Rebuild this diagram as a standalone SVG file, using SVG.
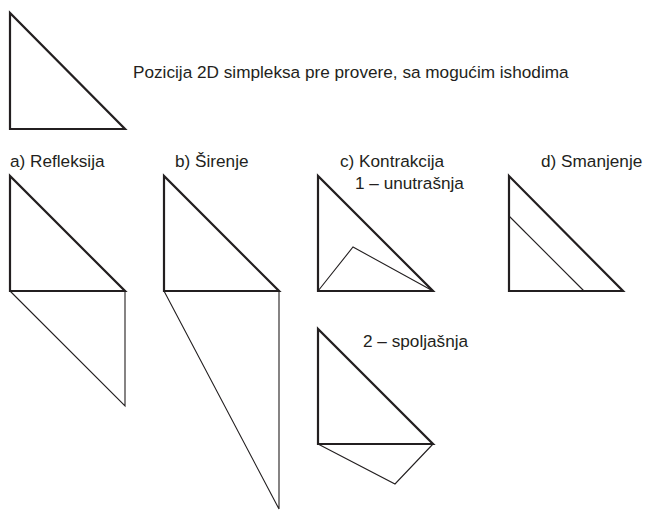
<svg xmlns="http://www.w3.org/2000/svg" width="646" height="510" viewBox="0 0 646 510">
<style>
.tri{fill:none;stroke:#231f20;stroke-width:2.2;stroke-linejoin:miter}
.thin{fill:none;stroke:#231f20;stroke-width:1.1}
text{font-family:"Liberation Sans",Arial,sans-serif;font-size:17.2px;fill:#231f20}
</style>
<rect width="646" height="510" fill="#fff"/>
<g id="start">
<polygon class="tri" points="10,13 10,129 125,129"/>
<text x="133" y="78" font-size="16.6">Pozicija 2D simpleksa pre provere, sa mogućim ishodima</text>
</g>
<g id="refleksija">
<text x="10" y="167">a) Refleksija</text>
<polygon class="tri" points="10,176 10,291 125,291"/>
<polyline class="thin" points="10,291 125,406 125,291"/>
</g>
<g id="sirenje">
<text x="175" y="167">b) Širenje</text>
<polygon class="tri" points="164,176 164,291 279,291"/>
<polyline class="thin" points="164,291 279,509 279,291"/>
</g>
<g id="kontrakcija-unutrasnja">
<text x="340" y="167">c) Kontrakcija</text>
<text x="355" y="189">1 – unutrašnja</text>
<polygon class="tri" points="318,176 318,291 433,291"/>
<polyline class="thin" points="318,291 353,247 433,291"/>
</g>
<g id="kontrakcija-spoljasnja">
<text x="363" y="347">2 – spoljašnja</text>
<polygon class="tri" points="318,329 318,444 433,444"/>
<polyline class="thin" points="318,444 395,484 433,444"/>
</g>
<g id="smanjenje">
<text x="541" y="167">d) Smanjenje</text>
<polygon class="tri" points="509,176 509,291 623,291"/>
<line class="thin" x1="509" y1="216" x2="584" y2="291"/>
</g>
</svg>
